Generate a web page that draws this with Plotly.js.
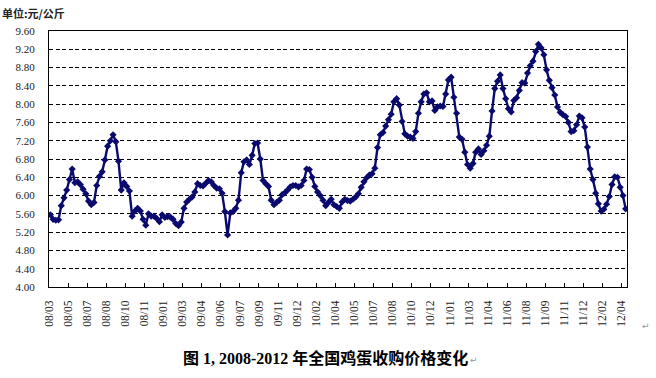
<!DOCTYPE html>
<html>
<head>
<meta charset="utf-8">
<script src="https://cdn.plot.ly/plotly-3.0.1.min.js"></script>
<style>html,body{margin:0;padding:0;background:#fff;}#chart{width:656px;height:378px;}</style>
</head>
<body>
<div id="chart"></div>
<script>
// Weekly egg purchase price (元/公斤), 2008/03 – 2012/04
const prices = [
 5.58,5.48,5.46,5.47,5.78,5.95,6.12,6.35,6.58,6.28,
 6.30,6.24,6.14,6.04,5.88,5.80,5.85,6.22,6.42,6.52,
 6.78,7.08,7.20,7.33,7.18,6.75,6.12,6.28,6.20,6.10,
 5.55,5.66,5.72,5.66,5.48,5.35,5.60,5.55,5.55,5.50,
 5.43,5.58,5.52,5.54,5.53,5.48,5.39,5.34,5.42,5.72,
 5.86,5.92,5.97,6.08,6.26,6.22,6.21,6.27,6.33,6.30,
 6.22,6.16,6.15,6.05,5.65,5.14,5.62,5.65,5.72,5.90,
 6.50,6.74,6.78,6.68,6.88,7.14,7.15,6.80,6.33,6.26,
 6.20,5.90,5.80,5.85,5.90,6.02,6.06,6.12,6.19,6.22,
 6.22,6.19,6.22,6.33,6.58,6.57,6.40,6.20,6.08,6.00,
 5.90,5.78,5.85,5.92,5.80,5.76,5.72,5.86,5.92,5.89,
 5.88,5.92,5.97,6.04,6.18,6.30,6.39,6.45,6.48,6.60,
 7.05,7.33,7.38,7.52,7.66,7.78,8.05,8.12,7.98,7.62,
 7.35,7.30,7.28,7.25,7.40,7.80,8.05,8.22,8.25,8.05,
 8.07,7.86,7.94,7.96,7.95,8.22,8.53,8.59,8.15,7.80,
 7.28,7.23,6.95,6.68,6.60,6.70,6.95,7.02,6.90,6.98,
 7.10,7.30,7.85,8.34,8.50,8.64,8.34,8.12,7.90,7.83,
 8.08,8.14,8.30,8.47,8.46,8.68,8.84,8.94,9.15,9.31,
 9.23,9.08,8.75,8.52,8.36,8.20,7.94,7.82,7.77,7.73,
 7.60,7.40,7.42,7.55,7.74,7.70,7.50,7.06,6.58,6.35,
 6.05,5.82,5.66,5.70,5.81,5.98,6.24,6.41,6.40,6.18,
 6.00,5.71
];
const tickLabels = ["08/03","08/05","08/07","08/08","08/10","08/11","09/01","09/03","09/04","09/06",
 "09/07","09/09","09/11","09/12","10/02","10/04","10/05","10/07","10/08","10/10",
 "10/12","11/01","11/03","11/04","11/06","11/08","11/09","11/11","11/12","12/02","12/04"];
const weeksPerLabel = 7;
const yTicks = [4.0,4.4,4.8,5.2,5.6,6.0,6.4,6.8,7.2,7.6,8.0,8.4,8.8,9.2,9.6];
const unitText = "单位:元/公斤";
const captionText = "图 1, 2008-2012 年全国鸡蛋收购价格变化";

const xs = prices.map((_, i) => i);
const tickvals = tickLabels.map((_, k) => k * weeksPerLabel - 0.5);
const navy = "#0a0a6e";

const trace = {
  x: xs, y: prices, type: "scatter", mode: "lines+markers",
  line: {color: navy, width: 2.4},
  marker: {symbol: "diamond", size: 5.5, color: navy},
  hoverinfo: "skip"
};

const serif = "Liberation Serif, Times New Roman, serif";
const layout = {
  width: 656, height: 378,
  margin: {l: 49, r: 29, t: 31, b: 91},
  paper_bgcolor: "#fff", plot_bgcolor: "#fff",
  showlegend: false,
  xaxis: {
    range: [-0.5, prices.length - 0.5],
    tickmode: "array", tickvals: tickvals, ticktext: tickLabels,
    tickangle: -90, ticks: "inside", ticklen: 4, tickcolor: "#000",
    showgrid: false, zeroline: false,
    showline: true, linecolor: "#000", linewidth: 1, mirror: true,
    tickfont: {family: serif, size: 11.5, color: "#222"},
    ticklabelstandoff: 8
  },
  yaxis: {
    range: [4.0, 9.6],
    tickmode: "array", tickvals: yTicks, ticktext: yTicks.map(v => v.toFixed(2)),
    ticks: "", showgrid: true, gridcolor: "#000", gridwidth: 1, griddash: "4px,2.5px",
    zeroline: false,
    showline: true, linecolor: "#000", linewidth: 1, mirror: true,
    tickfont: {family: serif, size: 11, color: "#222"},
    ticklabelstandoff: 11
  },
  annotations: [
    {text: "<b>" + unitText + "</b>", xref: "paper", yref: "paper",
     x: -49/578, y: 1 + 18/256, xanchor: "left", yanchor: "middle", showarrow: false,
     font: {family: "Noto Sans CJK SC", size: 11, color: "#222"}},
    {text: "<b>" + captionText + "</b>", xref: "paper", yref: "paper",
     x: (325 - 49)/578, y: -(358 - 287)/256, xanchor: "center", yanchor: "middle", showarrow: false,
     font: {family: "Liberation Serif, Noto Sans CJK SC", size: 16, color: "#000"}},
    {text: "↵", xref: "paper", yref: "paper",
     x: (474 - 49)/578, y: -(360 - 287)/256, xanchor: "center", yanchor: "middle", showarrow: false,
     font: {family: "DejaVu Sans", size: 9, color: "#999"}},
    {text: "↵", xref: "paper", yref: "paper",
     x: (646 - 49)/578, y: -(326 - 287)/256, xanchor: "center", yanchor: "middle", showarrow: false,
     font: {family: "DejaVu Sans", size: 9, color: "#999"}}
  ]
};

Plotly.newPlot("chart", [trace], layout, {staticPlot: true, displayModeBar: false});
</script>
</body>
</html>
